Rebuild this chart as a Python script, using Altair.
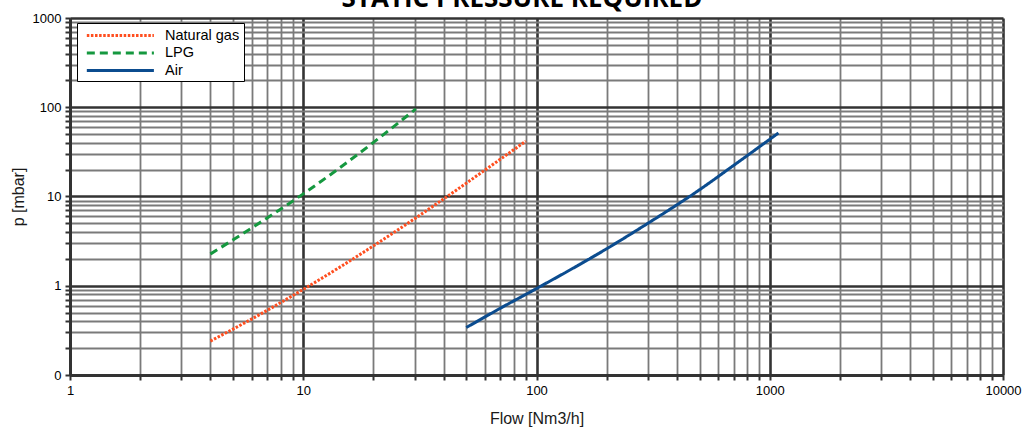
import altair as alt
import pandas as pd

# --- data ---
gas_flow = [4, 6, 10, 20, 30, 40, 60, 90]
gas_p = [0.24, 0.423, 0.91, 2.8, 5.63, 9.4, 19.7, 41.7]

lpg_flow = [4, 6, 10, 20, 30.4]
lpg_p = [2.27, 4.43, 10.7, 40.4, 96]

air_flow = [50, 70, 100, 200, 300, 500, 700, 1090]
air_p = [0.34, 0.56, 0.93, 2.6, 5.0, 11.9, 22.3, 51.5]

series = ["Natural gas", "LPG", "Air"]
colors = ["#FF4E1F", "#15983F", "#0B4C8F"]
dashes = [[2.5, 1.6], [8, 5], [1, 0]]

x_ticks = [m * 10 ** k for k in range(0, 4) for m in range(1, 10)] + [10000]
y_ticks = [round(m * 10 ** k, 6) for k in range(-1, 3) for m in range(1, 10)] + [1000]

rows = []
for name, fl, pv in [("Natural gas", gas_flow, gas_p), ("LPG", lpg_flow, lpg_p), ("Air", air_flow, air_p)]:
    for i, (f, p) in enumerate(zip(fl, pv)):
        rows.append({"series": name, "flow": f, "p": p, "order": i})
df = pd.DataFrame(rows)

FONT = "Liberation Sans"
major = "abs(log(datum.value)/LN10 - round(log(datum.value)/LN10)) < 1e-6"


def make_axis(title, values, label_expr, title_padding, title_font_size):
    return alt.Axis(
        values=values,
        title=title,
        labelExpr=label_expr,
        gridColor={"condition": {"test": major, "value": "#333333"}, "value": "#7a7a7a"},
        gridWidth={"condition": {"test": major, "value": 2.6}, "value": 1.8},
        gridOpacity=1,
        tickColor="#333333",
        tickWidth=2,
        tickSize=5,
        domainColor="#333333",
        domainWidth=3,
        labelFont=FONT,
        labelFontSize=13,
        labelColor="#000000",
        labelPadding=4,
        labelFlush=False,
        labelOverlap=False,
        titleFont=FONT,
        titleFontSize=title_font_size,
        titleFontWeight="normal",
        titleColor="#1a1a1a",
        titlePadding=title_padding,
    )


x_axis = make_axis("Flow [Nm3/h]", x_ticks, f"({major}) ? format(datum.value, 'd') : ''", 13, 16)
y_axis = make_axis(
    "p [mbar]",
    y_ticks,
    f"abs(datum.value - 0.1) < 1e-9 ? '0' : (({major}) ? format(datum.value, 'd') : '')",
    6,
    16,
)

lines = alt.Chart(df).mark_line(strokeWidth=3, interpolate="monotone", clip=True).encode(
    x=alt.X("flow:Q", scale=alt.Scale(type="log", domain=[1, 10000], nice=False), axis=x_axis),
    y=alt.Y("p:Q", scale=alt.Scale(type="log", domain=[0.1, 1000], nice=False), axis=y_axis),
    color=alt.Color(
        "series:N",
        scale=alt.Scale(domain=series, range=colors),
        sort=series,
        legend=alt.Legend(
            title=None,
            orient="none",
            legendX=7,
            legendY=5,
            fillColor="#ffffff",
            strokeColor="#000000",
            padding=4,
            symbolType="M-0.4,0H9.6",
            symbolSize=180,
            symbolStrokeWidth=3,
            labelFont=FONT,
            labelFontSize=14.5,
            labelColor="#000000",
            rowPadding=2.5,
            labelOffset=67,
        ),
    ),
    strokeDash=alt.StrokeDash(
        "series:N",
        scale=alt.Scale(domain=series, range=dashes),
        sort=series,
        legend=alt.Legend(title=None),
    ),
    order="order:Q",
)

title = alt.Chart(pd.DataFrame({"t": ["STATIC PRESSURE REQUIRED"]})).mark_text(
    font="Open Sans", fontSize=26, fontWeight="bold", color="#000000",
    align="center", baseline="alphabetic", clip=False,
).encode(text="t:N", x=alt.value(452), y=alt.value(-11.5))

chart = (
    alt.layer(lines, title)
    .properties(
        width=933,
        height=357,
        autosize=alt.AutoSizeParams(type="none"),
        padding={"left": 70, "top": 18, "right": 22, "bottom": 53},
    )
    .configure_view(stroke=None)
    .configure(background="#ffffff")
)

chart.save("out.html", embed_options={"renderer": "svg", "actions": False})
